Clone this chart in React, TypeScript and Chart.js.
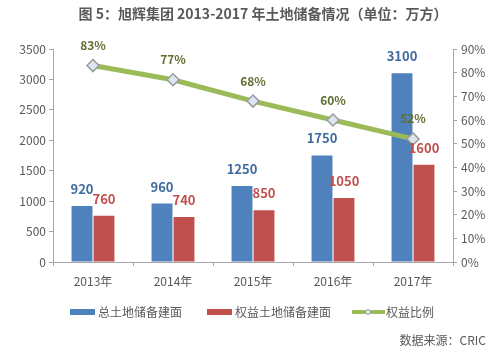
import React, { useEffect, useRef } from "react";
import { Chart, registerables } from "chart.js";
Chart.register(...registerables);

const categories = ["2013年", "2014年", "2015年", "2016年", "2017年"];
const totalArea = [920, 960, 1250, 1750, 3100];
const equityArea = [760, 740, 850, 1050, 1600];
const equityRatio = [0.83, 0.77, 0.68, 0.6, 0.52];
const seriesNames = ["总土地储备建面", "权益土地储备建面", "权益比例"];
const titleText = "图 5：旭辉集团 2013-2017 年土地储备情况（单位：万方）";
const sourceText = "数据来源：CRIC";

const FONT = "'Noto Sans CJK SC', 'Noto Sans', sans-serif";
const BLUE = "#4F81BD";
const RED = "#C0504D";
const GREEN = "#9BBB59";
const GREY = "#595959";

const decorPlugin = {
  id: "decor",
  afterDatasetsDraw(chart: any) {
    const ctx = chart.ctx;
    ctx.save();
    ctx.textAlign = "center";
    ctx.textBaseline = "middle";
    chart.data.datasets.forEach((ds: any, i: number) => {
      const meta = chart.getDatasetMeta(i);
      meta.data.forEach((el: any, j: number) => {
        const v = ds.data[j];
        if (ds.type === "line") {
          ctx.font = `bold 12px ${FONT}`;
          ctx.fillStyle = "#5E6E2E";
          ctx.fillText(Math.round(v * 100) + "%", el.x, el.y - 20);
        } else {
          ctx.font = `bold 13px ${FONT}`;
          ctx.fillStyle = i === 0 ? "#3F6AA0" : RED;
          ctx.fillText(String(v), el.x, el.y - 17);
        }
      });
    });
    ctx.restore();
  },
  afterDraw(chart: any) {
    const ctx = chart.ctx;
    ctx.save();
    // title
    ctx.font = `bold 14px ${FONT}`;
    ctx.fillStyle = GREY;
    ctx.textAlign = "center";
    ctx.textBaseline = "middle";
    ctx.fillText(titleText, 263, 14);
    // legend
    ctx.font = `12px ${FONT}`;
    ctx.textAlign = "left";
    const ly = 312;
    ctx.fillStyle = BLUE;
    ctx.fillRect(70, ly - 3, 25, 6);
    ctx.fillStyle = GREY;
    ctx.fillText(seriesNames[0], 98, ly);
    ctx.fillStyle = RED;
    ctx.fillRect(207, ly - 3, 25, 6);
    ctx.fillStyle = GREY;
    ctx.fillText(seriesNames[1], 235, ly);
    ctx.strokeStyle = GREEN;
    ctx.lineWidth = 4;
    ctx.beginPath();
    ctx.moveTo(352, ly);
    ctx.lineTo(385, ly);
    ctx.stroke();
    ctx.beginPath();
    ctx.moveTo(368, ly - 3);
    ctx.lineTo(371, ly);
    ctx.lineTo(368, ly + 3);
    ctx.lineTo(365, ly);
    ctx.closePath();
    ctx.fillStyle = "#DCE6F2";
    ctx.fill();
    ctx.strokeStyle = "#9A9A9A";
    ctx.lineWidth = 1;
    ctx.stroke();
    ctx.fillStyle = GREY;
    ctx.fillText(seriesNames[2], 386, ly);
    // source
    ctx.textAlign = "right";
    ctx.fillText(sourceText, 486, 340);
    ctx.restore();
  },
};

export default function App() {
  const ref = useRef<HTMLCanvasElement>(null);
  useEffect(() => {
    if (!ref.current) return;
    const chart = new Chart(ref.current, {
      type: "bar",
      data: {
        labels: categories,
        datasets: [
          {
            type: "bar",
            label: seriesNames[0],
            data: totalArea,
            backgroundColor: BLUE,
            yAxisID: "y",
            order: 1,
            categoryPercentage: 0.55,
            barPercentage: 0.95,
          },
          {
            type: "bar",
            label: seriesNames[1],
            data: equityArea,
            backgroundColor: RED,
            yAxisID: "y",
            order: 1,
            categoryPercentage: 0.55,
            barPercentage: 0.95,
          },
          {
            type: "line",
            label: seriesNames[2],
            data: equityRatio,
            borderColor: GREEN,
            borderWidth: 5,
            pointStyle: "rectRot",
            pointRadius: 6,
            pointBackgroundColor: "#DCE6F2",
            pointBorderColor: "#9A9A9A",
            pointBorderWidth: 1.5,
            yAxisID: "y1",
            order: 0,
          } as any,
        ],
      },
      options: {
        responsive: false,
        animation: false,
        layout: { padding: { top: 49, left: 0, right: 0, bottom: 0 } },
        plugins: {
          legend: { display: false },
          title: { display: false },
          tooltip: { enabled: false },
        },
        scales: {
          x: {
            grid: {
              drawOnChartArea: false,
              tickLength: 4,
              color: "#A6A6A6",
            },
            border: { color: "#A6A6A6" },
            ticks: {
              font: { family: FONT, size: 12 },
              color: GREY,
              padding: 8,
            },
            afterFit(scale: any) {
              scale.height = 89;
            },
          },
          y: {
            position: "left",
            min: 0,
            max: 3500,
            ticks: {
              stepSize: 500,
              font: { family: FONT, size: 12 },
              color: GREY,
              padding: 3,
              callback: (v: any) => String(v),
            },
            grid: { drawOnChartArea: false, tickLength: 4, color: "#A6A6A6" },
            border: { color: "#A6A6A6" },
            afterFit(scale: any) {
              scale.width = 53;
            },
          },
          y1: {
            position: "right",
            min: 0,
            max: 0.9,
            ticks: {
              stepSize: 0.1,
              font: { family: FONT, size: 12 },
              color: GREY,
              padding: 4,
              callback: (v: any) => Math.round(Number(v) * 100) + "%",
            },
            grid: { drawOnChartArea: false, tickLength: 4, color: "#A6A6A6" },
            border: { color: "#A6A6A6" },
            afterFit(scale: any) {
              scale.width = 47;
            },
          },
        },
      },
      plugins: [decorPlugin],
    });
    return () => chart.destroy();
  }, []);
  return (
    <div style={{ position: "fixed", left: 0, top: 0, width: 500, height: 351, background: "#fff" }}>
      <canvas ref={ref} width={500} height={351} />
    </div>
  );
}
